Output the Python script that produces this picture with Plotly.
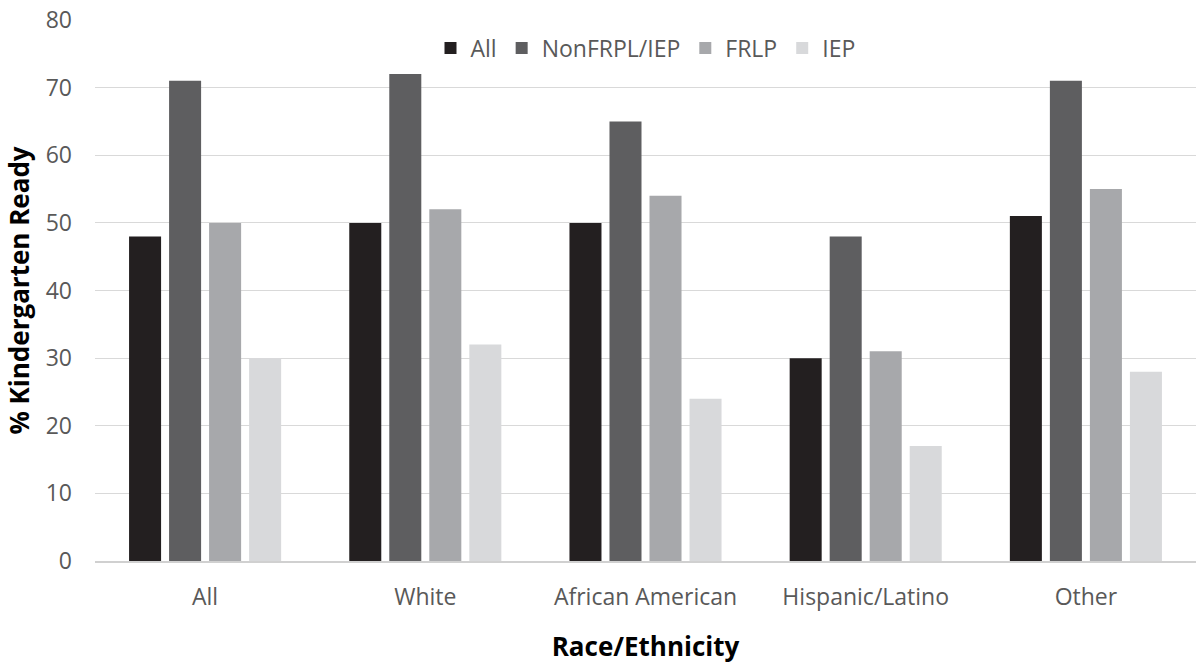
import plotly.graph_objects as go

categories = ["All", "White", "African American", "Hispanic/Latino", "Other"]
series_names = ["All", "NonFRPL/IEP", "FRLP", "IEP"]
vals_all = [48, 50, 50, 30, 51]
vals_nonfrpl = [71, 72, 65, 48, 71]
vals_frlp = [50, 52, 54, 31, 55]
vals_iep = [30, 32, 24, 17, 28]
colors = ["#231f20", "#5e5e60", "#a7a8ab", "#d8d9db"]

font_family = "Open Sans, Noto Sans, sans-serif"

fig = go.Figure()
for name, vals, col in zip(series_names, [vals_all, vals_nonfrpl, vals_frlp, vals_iep], colors):
    fig.add_trace(go.Bar(x=categories, y=vals, name=name, marker_color=col,
                         marker_line_width=0))

fig.update_layout(
    width=1199, height=664,
    margin=dict(l=95, r=3, t=20, b=103),
    paper_bgcolor="white", plot_bgcolor="white",
    barmode="group", bargap=0.273, bargroupgap=0.2,
    font=dict(family=font_family, size=23, color="#595959"),
    legend=dict(orientation="h", x=0.5, xanchor="center", y=0.948, yanchor="middle",
                font=dict(size=23, color="#595959"), itemwidth=30,
                bgcolor="rgba(0,0,0,0)", traceorder="normal"),
    showlegend=True,
)
fig.update_yaxes(range=[0, 80], dtick=10, showgrid=True, gridcolor="#d9d9d9", gridwidth=1,
                 zeroline=False, showline=False, ticks="", ticklabelstandoff=22,
                 tickfont=dict(size=23, color="#595959"),
                 title=dict(text="<b>% Kindergarten Ready</b>", font=dict(size=26, color="black"),
                            standoff=8))
fig.update_xaxes(showline=True, linecolor="#d0d0d0", linewidth=2, ticks="",
                 ticklabelstandoff=14, tickfont=dict(size=23, color="#595959"),
                 title=dict(text="<b>Race/Ethnicity</b>", font=dict(size=26, color="black"),
                            standoff=31))

fig.write_html("out.html")
